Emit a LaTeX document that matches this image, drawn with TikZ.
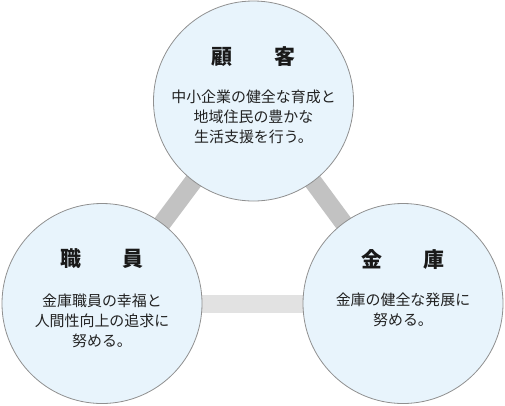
\documentclass[tikz,border=0pt]{standalone}
\usepackage{fontspec}
\setmainfont{Noto Sans CJK JP}
\usetikzlibrary{
  positioning,
  calc,
  backgrounds
}
\definecolor{circfill}{HTML}{E8F4FC}
\definecolor{circline}{HTML}{909090}
\definecolor{bardark}{HTML}{C2C2C2}
\definecolor{barlight}{HTML}{E2E2E2}
\definecolor{textc}{HTML}{222222}

\begin{document}
\begin{tikzpicture}[
    x=1bp, y=-1bp,
    circ/.style={circle, fill=circfill, draw=circline, line width=0.8bp,
      minimum size=200bp, inner sep=0pt},
    title/.style={font=\fontsize{21}{24}\selectfont\bfseries, text=black!90},
    body/.style={font=\fontsize{15}{20}\selectfont, text=textc,
      align=center, anchor=north, inner sep=0pt},
    bar/.style={line width=18bp, bardark}
    ]
    
    \useasboundingbox (0,0) rectangle (505,405);
    
    % kreise
    \node[circ] (kokyaku) at (253.5,101) {};
    \node[circ] (shokuin) at (102,303.5) {};
    \node[circ] (kinko) at (403,303.5) {};
    
    % verbindungen
    \begin{scope}[on background layer]
    \draw[bar] (kokyaku.center) -- (shokuin.center);
    \draw[bar] (kokyaku.center) -- (kinko.center);
    \draw[bar, barlight] (shokuin.center) -- (kinko.center);
    \end{scope}
    
    % texte
    \node[title] (kokyakuT) at ([yshift=44bp]kokyaku.center) {顧　　客};
    \node[body] (kokyakuB) at ([yshift=11bp]kokyaku.center)
    {中小企業の健全な育成と\\地域住民の豊かな\\生活支援を行う。};
    
    \node[title] (shokuinT) at ([yshift=45bp]shokuin.center) {職　　員};
    \node[body] (shokuinB) at ([yshift=10bp]shokuin.center)
    {金庫職員の幸福と\\人間性向上の追求に\\努める。};
    
    \node[title] (kinkoT) at ([yshift=44bp]kinko.center) {金　　庫};
    \node[body] (kinkoB) at ([yshift=11bp]kinko.center)
    {金庫の健全な発展に\\努める。};
    
\end{tikzpicture}
\end{document}
